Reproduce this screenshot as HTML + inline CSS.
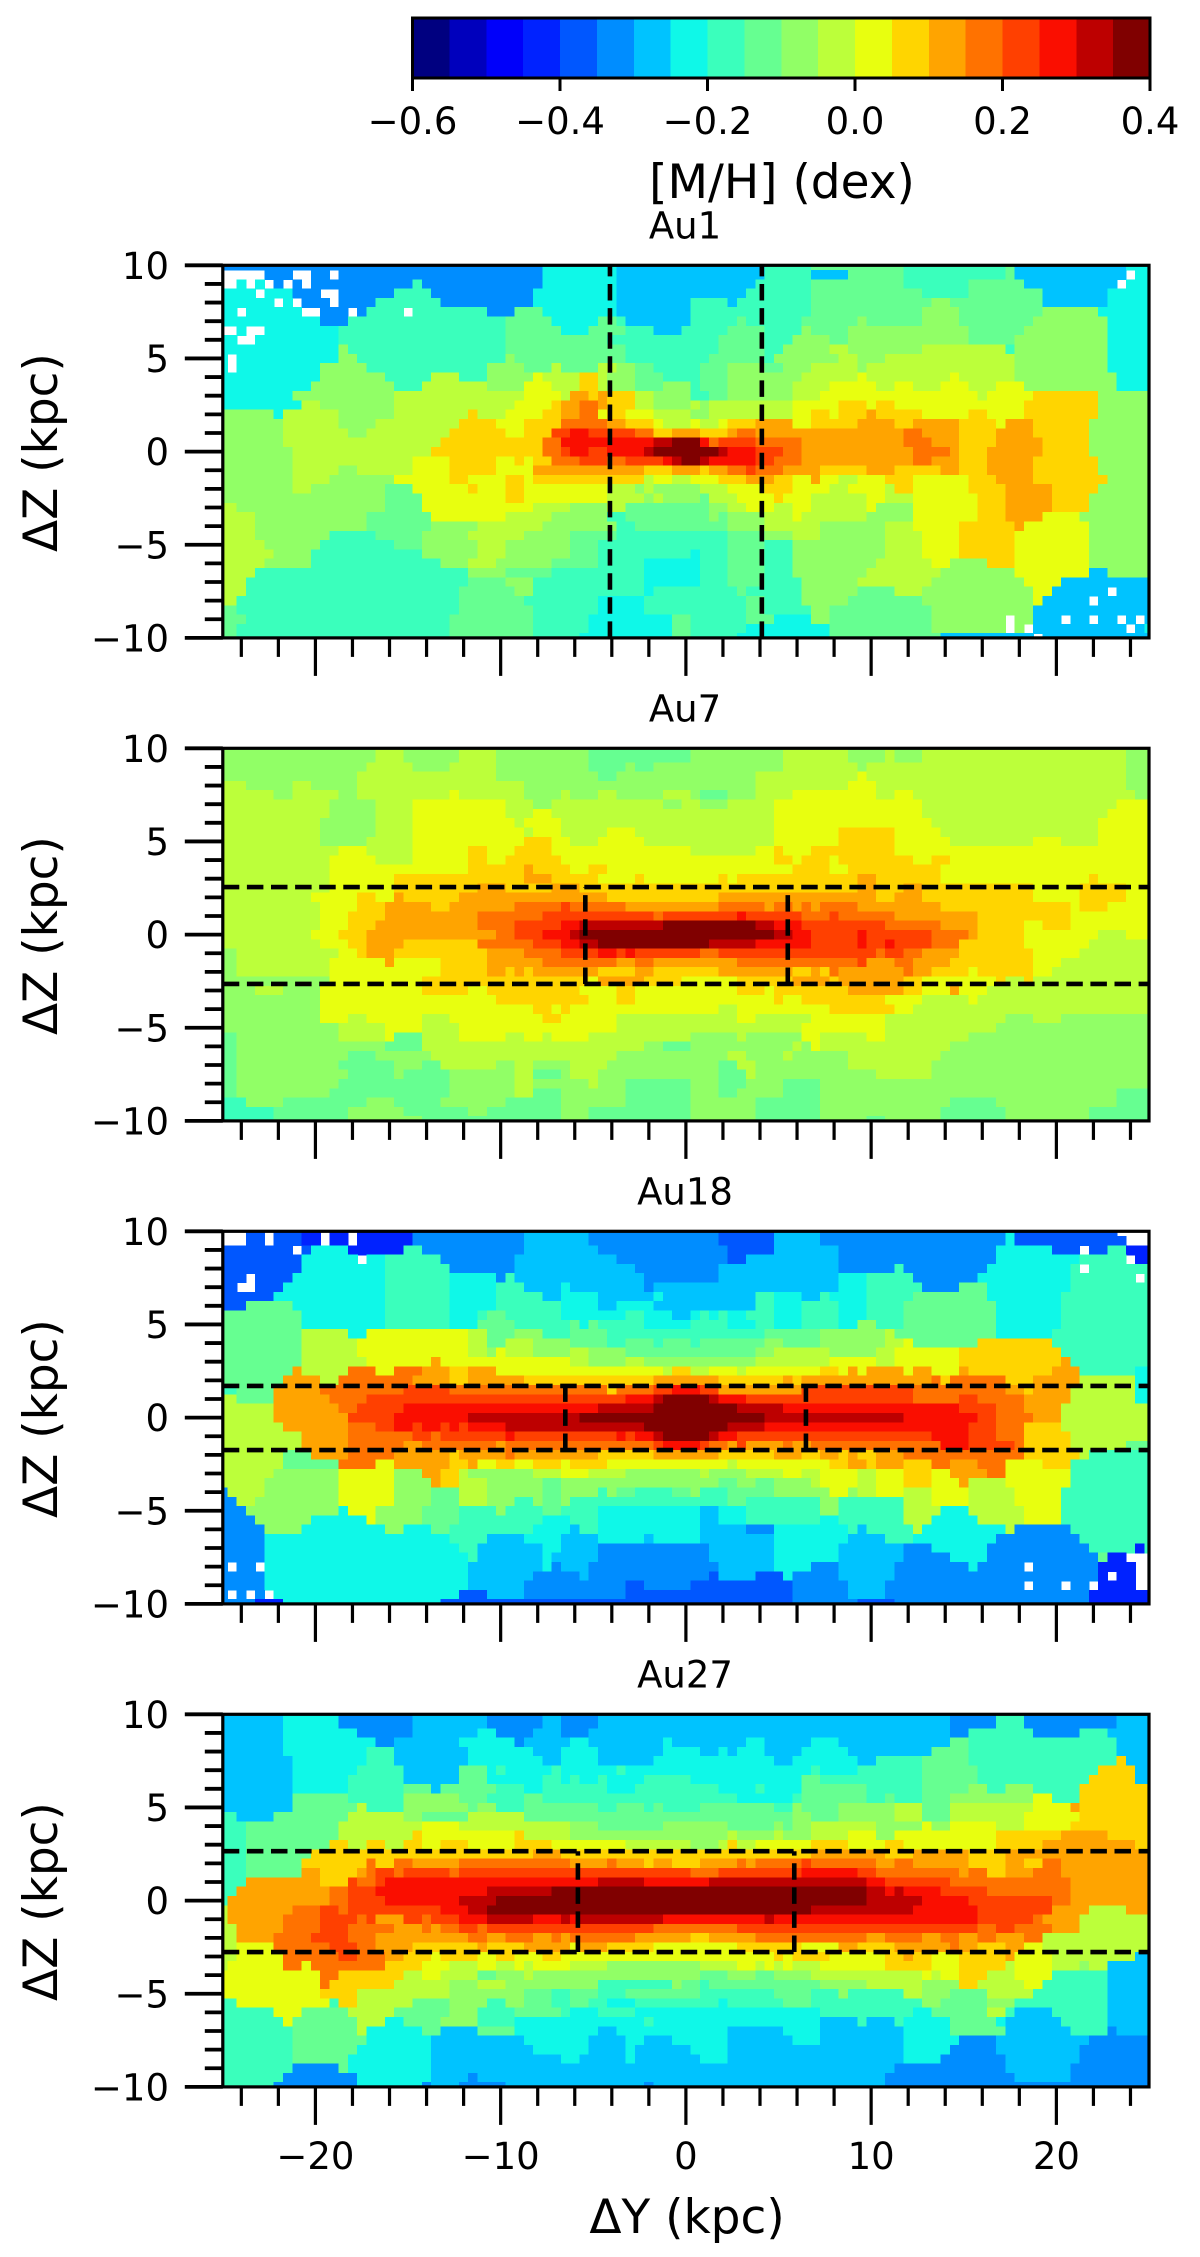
<!DOCTYPE html>
<html lang="en">
<head>
<meta charset="utf-8">
<title>[M/H] maps of Au1, Au7, Au18 and Au27</title>
<style>
html,body{margin:0;padding:0;background:#fff;width:1200px;height:2257px;overflow:hidden}
svg{display:block}
text{font-family:"DejaVu Sans","Liberation Sans",sans-serif;fill:#000}
</style>
</head>
<body>
<svg id="figure" xmlns="http://www.w3.org/2000/svg" width="1200" height="2257" viewBox="0 0 1200 2257"></svg>
<script>
/* Binned [M/H] maps. Each row (top = +10 kpc) is a list of tokens: colour level letter + last bin (exclusive).
   a..t = the 20 colour levels from -0.6 to 0.4 dex, _ = empty bin. */
const au1Rows = [
"f35 h43 g59 i64 j74 i85 j86 g98 h101",
"_5 f8 _10 f12 _13 f35 h43 g59 i64 g68 j74 i85 j86 g98 _99 h101",
"_2 h3 _4 h5 _6 f7 _8 f9 _10 f21 i22 f35 h43 g58 i64 j74 i81 j87 g97 _98 h101",
"h4 _5 h8 f11 _13 f19 i23 f34 h43 g57 i64 j76 i81 j89 g96 h101",
"h6 _7 h8 _9 f12 _13 f17 i24 f34 h43 g51 i55 g56 i64 j77 k79 j89 g96 h101",
"h2 _3 h9 _11 f14 _15 f16 i20 _21 i29 f32 j35 h43 g51 i64 j76 k80 j89 k95 h101",
"h11 f14 i31 j36 h41 j43 i44 g51 i56 j57 i63 j69 k70 j76 k80 j88 k96 h101",
"_2 h3 _5 h13 i31 j37 h40 j44 i47 g50 i55 j59 i63 k64 j68 k81 j87 k96 h101",
"h2 _4 h13 i31 j42 i54 j59 i62 k66 j68 k81 j86 k96 h101",
"h13 k14 i31 j44 i54 j59 i61 k66 l68 k76 l85 i86 k96 h101",
"h1 _2 h13 k15 i31 k32 j44 i53 j59 i60 k67 l69 k72 l86 k96 h101",
"h1 _2 h11 k16 i29 k33 j36 l37 j41 l43 k45 j47 i52 j55 k59 j61 k64 l69 k70 l86 k96 h101",
"h11 k18 i23 l26 i29 k34 m35 l39 n41 l42 k45 j48 i52 j55 k63 l69 m70 l79 m80 l86 k97 h101",
"h10 k19 i22 l29 k33 m36 l39 n41 l42 k45 j48 k51 i52 j55 k62 l66 m71 l73 m75 l78 m81 l84 m87 k97 h101",
"h8 k19 l33 m37 l38 o40 n41 o42 n45 l47 k51 i53 j55 k62 l65 m82 l83 m88 n95 k101",
"h9 l11 k19 l32 m36 n37 o39 p41 o42 n45 l47 k51 l52 k53 l62 m67 n70 m71 n73 m87 n95 k101",
"k6 h7 l13 k19 l27 n28 l31 m35 n37 o39 p41 m42 n44 m47 l51 k53 l62 m64 n66 m67 n70 o71 n76 m81 n83 m87 n95 k101",
"k7 l13 k17 l26 n30 m33 n37 p42 o44 n47 m48 l51 m52 l54 m55 n58 o62 m64 n69 o73 n75 o80 n84 m85 o88 n94 k101",
"k7 l14 k16 l25 n31 m33 n36 q38 r40 q45 p47 n49 o52 n55 o56 p58 o74 p76 o80 n84 o88 n94 k101",
"k7 l24 n35 p37 r47 s49 t52 r53 p54 q58 p63 o74 p77 o80 n84 o89 n94 k101",
"k8 l23 n35 p37 q38 r40 q42 r46 s47 t54 s55 r58 q61 p63 o75 p79 o80 n83 o89 n94 k101",
"k8 l21 m25 n30 m32 n33 m34 n36 p39 q42 p44 q48 r49 s50 t52 s53 r58 q60 p63 o75 p77 o80 n83 o88 n95 k101",
"k8 l13 k15 l21 m25 n30 m34 o46 n49 o52 n53 o55 p57 q58 p61 o65 n70 o73 n78 o80 n83 o88 n95 k101",
"k8 l12 k19 m25 n27 m31 n33 m34 n46 l47 m49 l51 m54 n57 o60 n62 m64 o65 m67 l69 m72 n75 m81 n84 o88 n96 k101",
"k8 l10 k18 j21 m27 n28 m31 n33 m42 l45 k46 l47 k52 l55 m59 n62 m66 l68 m72 l73 n75 m81 n85 o90 n95 k101",
"k18 j22 m31 n33 m42 l46 k47 l48 k52 j53 l56 m60 n61 m64 l70 m72 l75 m82 n85 o90 n94 k101",
"l2 k18 j22 m34 l38 k42 l44 j53 k55 l57 m60 l62 m64 l70 m71 k75 m82 n85 o90 n94 k101",
"l4 k16 j23 m31 l36 k42 i44 j53 k54 j55 k59 l62 m63 l70 k75 m82 n85 o89 m93 k101",
"l4 k16 j23 k28 l35 k43 i45 j55 k59 l65 k72 l75 m80 n86 o87 m94 k101",
"l4 k12 i17 j22 k27 l33 k38 j43 i55 j59 k62 l65 k72 l76 m80 n86 m94 k101",
"l5 k11 i19 j22 k28 l31 k38 j41 i55 j59 i62 k72 l76 m80 n86 m94 k101",
"l6 k10 i22 k28 l31 k38 j41 i51 h52 i55 j59 i62 k72 l76 m80 n86 m94 k101",
"l5 k10 i24 k27 l30 k36 j41 i46 h52 i55 j59 i62 k71 l77 m79 k83 n86 m94 k101",
"l4 i27 k31 j36 i46 h52 i55 j59 i62 k70 l78 k86 m94 g96 k101",
"l3 i27 j31 k34 i46 h52 i55 j59 i63 k69 l77 k87 m91 g101",
"l3 i26 j32 k34 i46 h47 i56 j57 i63 k69 j73 l76 k88 m90 g96 _97 g101",
"l2 i26 j33 i41 h46 i57 j59 i63 k68 j76 k88 m89 g94 _95 g101",
"j2 i26 j34 i41 h46 i57 j59 i64 k66 j77 k88 g101",
"j3 i25 j34 i40 h49 j51 i57 j60 h64 k66 j77 k85 _86 k88 g91 _92 g94 _95 g97 _98 g99 _100 g101",
"j2 i25 j34 i40 h49 j51 i57 h66 j77 k85 _86 k87 _88 g98 _99 g100 h101",
"j2 i25 j34 i39 h49 j51 i56 h66 j78 g88 _89 g101"
];
const au7Rows = [
"k17 l20 k26 l30 k40 j51 k61 l68 k72 l73 k76 l98 k101",
"k17 l20 k26 l30 k40 j51 k61 l68 k72 l73 k76 l98 k101",
"k16 l21 k25 l30 k40 j44 k45 j47 k61 l69 k70 l98 k101",
"k15 l30 k41 j43 k58 l69 m70 l98 k101",
"l3 k8 l10 k15 l33 k58 l68 m71 l98 k101",
"l6 k8 l13 k15 l25 m26 l33 k37 l38 k41 l43 k48 l51 k52 j55 k58 l62 m71 l73 m75 l99 k101",
"l12 k17 l21 m31 l34 k36 l48 k50 l52 k55 l60 m76 l97 m101",
"l12 k17 l21 m31 l34 m36 l60 m76 l96 m101",
"l11 k17 l21 m32 l33 m37 l60 m77 l95 m101",
"l11 k17 l21 m33 l34 m37 l42 m45 l60 m67 n73 m78 l95 m101",
"l11 k16 l21 m33 n36 m38 l41 m46 l60 m67 n73 m79 l88 m91 l95 m101",
"l13 m16 l21 m27 n29 m32 n36 m51 l58 m60 n61 m64 n73 m101",
"l12 m17 l21 m27 n29 m31 n37 m60 n62 m63 n66 m67 n75 m77 n79 m101",
"l12 m27 n33 o34 n38 m40 n42 m62 n66 m68 n78 m101",
"l12 m19 n33 o36 n41 m45 n46 m54 n55 m56 n69 o71 n78 m94 n95 m101",
"l12 m19 n28 o31 n36 o39 n69 o71 n74 o76 n88 m93 n98 m101",
"l10 m15 n17 m19 o20 n26 o42 n54 o71 n73 o76 n88 m93 n98 m101",
"l11 m15 n18 o23 n25 o32 p37 q38 p44 o54 p59 o60 p62 o63 p64 o65 p69 o78 n92 m93 n96 m101",
"l11 m14 n18 o28 p35 q47 p48 q56 r57 q63 p66 q67 p73 o82 n92 m101",
"l11 m14 n17 o28 p32 q37 r39 s48 t58 s60 r63 q72 p78 o82 n87 m89 n92 m101",
"l10 m13 n16 o30 p32 q35 r38 s39 t60 s62 r64 q69 r70 q77 p81 o82 n87 m95 l98 m101",
"l11 m14 n16 o20 n28 p34 q37 r39 s41 t53 s58 r64 q69 r70 q72 r73 q77 p80 n87 m94 l101",
"k2 l13 m15 n16 o19 n29 o33 p37 q41 r43 q44 r45 q52 p54 q71 p72 q74 p76 o80 n88 m93 l101",
"k2 l12 m18 o19 m24 n29 o35 p43 o45 p47 o56 p69 q70 o73 p75 o79 n88 m91 l101",
"k2 l12 m24 n29 o31 n32 o33 n34 o41 n45 o47 n54 o62 n64 o65 n66 p67 o74 p75 o77 n81 m82 n88 m90 l101",
"k12 m22 n40 m41 o46 n50 m56 n62 o66 n67 o74 n76 m84 n85 l87 n88 l101",
"k4 l7 k11 m22 n27 m29 n39 m43 n45 m56 n59 m60 n68 o74 n76 m79 o80 m83 l101",
"k11 m30 n40 m43 n45 m60 n61 m63 n72 m76 l81 m82 l101",
"k11 m34 n36 m37 n38 m54 l56 m66 n73 m75 l101",
"k11 m14 l16 m22 l25 m35 n37 m43 l56 m58 l64 m72 l85 k88 l91 k101",
"k13 l18 m22 l26 m43 l63 m72 l84 k101",
"j2 k13 l18 m19 j22 l26 m31 l33 m35 l36 m40 l51 k56 l57 k63 m65 l70 m72 l81 k101",
"j2 k18 j22 l46 k48 j51 k62 l63 k64 m65 l79 k101",
"j2 k14 j17 k23 l43 k55 l57 k61 l62 k68 l78 k101",
"j2 k13 j19 k22 j24 l30 k32 l34 k38 l42 k54 j56 l58 k68 l77 k101",
"j2 k14 j19 k20 j25 k32 l34 j37 k38 l41 k54 j57 l58 k71 l77 k101",
"j2 k13 j25 k32 l34 k40 l41 k44 j51 k54 j57 k61 j65 k101",
"j2 k12 j25 k32 l34 j37 k44 j51 k54 j56 k61 j65 k97 j101",
"i3 k7 j16 k19 j24 k31 j37 k44 j51 k58 j65 k79 j84 k97 j101",
"i6 j14 k20 j27 k29 j37 k40 j51 k58 j65 k78 j85 k94 j101",
"i6 j14 k22 j37 k40 j51 k58 j65 k70 j72 k78 j85 k94 j101"
];
const au18Rows = [
"_3 e5 _6 e9 d11 _12 d14 _15 d21 f33 g40 f54 e60 g65 f85 h86 e97 _101",
"_3 e5 _6 e9 d11 _12 d14 _15 d21 f33 g40 f54 e60 g65 f85 h86 e98 _101",
"e8 _9 e10 h14 d20 i22 f33 g41 f55 e60 g67 f84 h90 e93 _94 e96 i98 d101",
"e9 h15 _16 h18 i24 f32 g43 f55 e57 g67 f84 h93 i98 _99 d101",
"e9 h18 i25 f32 g45 f54 g67 f73 i74 f83 h92 i93 _94 i101",
"e3 _4 e8 h18 i25 h30 f31 i32 g46 f54 g67 h70 i75 f82 h92 i99 _100 i101",
"e2 _4 e7 h18 i25 h30 i33 g37 h38 g46 f47 g67 h70 i76 f80 j83 h92 i101",
"e6 h18 i25 h30 i35 g37 h41 g47 h48 g58 i60 h63 g65 i66 h70 i75 j83 h91 i101",
"e3 j8 h18 i25 h30 i37 h41 g43 h47 g58 i60 h63 i67 h70 i74 j84 h91 i101",
"j9 h18 i25 h28 i29 j31 i37 h44 i46 h49 g51 h52 i53 h54 i55 h57 i60 h63 i67 h70 i74 j84 h91 i101",
"j9 h18 i25 h28 j32 i38 j39 h40 j41 i46 h51 i55 h58 i60 h63 i67 h69 k71 i74 j84 h91 i101",
"j9 l14 h16 m27 l29 j32 k35 i38 j42 i59 j65 k72 l73 j84 h90 i101",
"j9 l15 m27 l29 j31 l34 k38 j42 i44 j47 i48 j51 i52 j59 k61 j65 k72 l74 m75 j82 n90 i101",
"j9 l15 m27 l29 k30 m31 l34 k38 l40 k44 j58 k60 l66 k71 l73 m80 n91 i101",
"j9 l16 m23 o24 m38 l40 k44 l46 k58 l66 m71 l73 m80 n91 o92 i101",
"j8 o9 l14 p17 m19 p22 o25 n27 o30 m48 l49 n51 l53 m56 l57 m65 n67 m68 o69 m70 o74 m75 o77 m80 o81 n90 o93 i99 h101",
"j7 o11 l13 p21 o25 n27 o33 n47 o54 n61 o62 n63 o77 p78 n79 p85 n88 o93 l99 h101",
"i2 j6 o11 p20 q25 p42 n43 p47 q49 r52 q54 o63 q75 p85 o87 n88 o92 l99 h101",
"l2 j6 o12 p16 q44 r47 s48 t53 s54 r57 q75 p80 q82 p87 o92 l99 h101",
"l6 o13 p15 q20 r41 s47 t56 s61 r80 q84 p87 o91 l101",
"l6 o14 q19 r27 s39 t59 s74 r82 q84 p88 o91 l101",
"l7 o14 p17 q19 r21 q22 r24 q25 r26 q27 r31 s46 t55 s59 r81 q84 p87 n91 l101",
"l9 o14 p21 q23 p24 q31 r32 q43 r44 q45 r47 s48 t53 s54 r56 q77 r81 q84 p87 n92 l101",
"l9 o14 p20 o22 p30 o31 p47 q48 r52 q53 p55 o56 q57 o61 p62 o64 p78 r81 q86 p87 n92 l98 j101",
"l7 j10 o14 p19 o25 n26 o31 p32 o41 n47 o54 n60 o63 n65 o67 n68 o69 n71 o74 p87 n93 l94 i101",
"l7 j13 p17 m19 o25 n27 o28 m30 n32 m34 n37 m38 n42 m55 l56 m66 n68 o70 n71 o74 n77 p79 o82 p85 m89 n92 i101",
"l6 k13 m19 k22 o24 n26 l27 k34 l37 m40 l44 k52 l53 k57 l61 m63 l65 m69 l71 m74 n77 m79 o83 p85 m92 i101",
"l5 k13 m19 k23 o24 n26 l29 k35 j37 k54 j56 k58 j60 k64 l65 m69 l71 m74 n77 m80 o81 l85 m92 i101",
"f1 l5 k13 m19 k23 j26 l29 k35 j37 k41 i42 k43 j45 i49 j51 k52 i55 j60 k66 m68 k69 l71 m74 l77 m81 l86 m91 i101",
"f2 l4 k13 m19 k23 j26 l29 k32 i34 k35 j37 k38 i55 j57 i65 k67 i74 l77 m81 l86 m91 i101",
"f3 k13 h14 m17 k22 j26 i30 k31 i35 j37 i41 h52 g54 h57 i65 k67 i74 l78 h81 l87 m91 i101",
"f4 k10 h16 m17 k22 j26 i35 h38 i41 h52 g54 h57 i65 h67 i74 l77 h82 l87 m91 i101",
"f5 k9 h18 k20 h23 j25 i34 h38 g39 i41 h52 g57 f60 h68 i69 g70 i75 l76 h85 l86 f92 i101",
"f5 h25 i29 g33 h37 g41 h46 g47 h52 g60 h68 g72 i75 h84 f93 i101",
"f5 h26 i28 g35 h37 g41 f53 g60 h67 g74 f77 h83 f94 i99 d100 i101",
"f5 h27 i28 g35 h36 g41 f53 g60 h67 g74 f79 h83 f95 j96 d98 _101",
"f1 _2 f4 _5 h27 g35 h36 f37 g40 f54 g60 h64 f67 g73 f81 h82 f87 _88 f95 d99 _101",
"f5 h27 g34 f39 g40 f53 e54 g58 e61 h62 f67 g73 f95 d96 _97 d99 _101",
"f5 h27 g33 f44 e46 f51 e62 f68 g72 f87 _88 f91 _92 f94 _95 d99 _101",
"f1 _2 f3 _4 f5 _6 h26 e29 g33 f44 e62 f68 g72 f94 d101",
"f4 d7 h24 e62 f69 e73 f94 d101"
];
const au27Rows = [
"g7 h13 f21 g29 f35 g37 f41 g79 f84 i87 f97 g101",
"g7 h13 f21 g29 f35 g37 f41 g79 f84 i87 f97 g101",
"g7 h15 f21 g28 h30 f34 g37 f40 g79 f81 i88 f93 i96 g101",
"g7 h17 f19 g26 h32 f33 g38 h40 g48 h49 g57 h59 g64 h67 g79 j81 i97 g101",
"g7 h16 i19 g27 h34 g37 h41 g48 h52 g54 h55 g56 h59 g63 h68 g77 j81 i97 g101",
"g8 h16 i19 g27 h35 g37 h41 g47 h60 g62 h69 g71 i76 j81 i97 n98 g101",
"g8 h15 i20 g26 j29 h30 i31 h36 i37 h43 i44 h64 i65 h69 i76 j82 i95 n99 g101",
"g8 h14 i20 g26 j29 h35 i37 h38 i39 h41 i42 h46 i51 h63 j65 i76 j82 i94 n99 g101",
"g8 h14 i20 j23 g24 j30 i33 h35 i42 h45 i54 h58 i59 h63 j70 i76 j81 k83 i85 k88 i93 n101",
"g8 j14 i20 k26 j29 i33 j35 i56 h62 i63 j70 i72 j73 i76 j79 k88 m90 i93 n101",
"g8 j15 l16 i20 k27 j28 k30 i33 j41 i43 j46 i47 j48 i52 j60 i62 k63 j67 k73 l76 j79 l88 m92 o93 n101",
"i2 g6 j14 l20 k22 j27 l33 j62 k64 j67 k73 l76 j79 l87 m93 n101",
"i3 j13 l22 m26 l38 k41 j48 k55 j60 k61 j62 k64 l71 k76 m77 k79 m84 l87 m92 n101",
"i3 j13 l21 n22 m32 n33 l38 k55 l56 k60 l61 k64 l68 m71 k73 m84 n91 o96 n101",
"i3 j12 n14 l16 n18 l20 n22 m24 n27 m32 n36 m44 l51 k54 l55 n56 l58 m64 n68 m72 n74 m84 n89 o99 n101",
"i3 j10 n34 o37 n64 o72 n75 o81 n85 o101",
"i3 j9 n16 p17 n19 p21 o26 p38 o42 p43 o46 n47 o49 n52 o56 p57 o58 p63 q64 p71 o73 p75 o81 n85 o87 n89 p91 o101",
"i3 j9 o11 n15 o16 p17 q19 p20 q25 p26 q51 p54 q63 r69 q71 p80 o81 p83 n85 o88 p91 o101",
"i3 o11 n14 q15 p17 q18 r41 s46 r53 s70 r72 q79 p92 o101",
"i2 o12 p14 q17 r29 s36 t70 s72 r73 s74 r78 q83 p92 o101",
"i1 o12 p14 q18 r26 s30 t70 s76 r81 q90 p92 o101",
"l1 o8 p11 q13 p14 q24 r27 s29 t64 s75 r82 q90 o94 l98 o101",
"l1 o7 p11 q15 p16 q17 o20 q22 p23 q26 r29 s34 r37 s38 r39 s48 r59 s60 r82 q88 p89 o93 l101",
"l2 o7 p11 q14 p19 o22 p23 o24 p26 q28 p29 q47 p56 q82 p84 q86 p90 o93 l101",
"l2 o6 p10 q14 p17 o27 p29 o31 p34 o36 p37 o38 p45 o51 n53 o58 p70 o72 p76 o78 p80 o82 p84 o87 p89 l101",
"l2 m6 p12 q15 p17 o21 n28 o29 n33 o38 m39 o42 n47 m56 n63 m67 o69 n73 o79 p80 o82 n85 o87 m89 l101",
"l2 m7 p13 q15 p18 o20 n23 m24 n28 m30 n32 m35 n37 m60 n61 m62 n66 m72 n74 o75 n77 m80 n85 o86 m90 l99 g101",
"l1 m7 p9 m10 p18 n22 m25 l28 m30 l32 m33 l34 m38 l42 k52 l56 m58 l59 m60 l61 m62 l65 m72 n77 m80 n85 l86 m90 l93 k94 l96 g101",
"m11 p13 n20 l22 m24 l28 j30 k33 l34 k52 j55 k58 j60 k64 l76 m77 l78 m80 n83 l86 m90 i96 g101",
"m11 p12 n19 l25 k28 l31 k41 i49 k50 j52 i53 j65 k70 l76 k80 n82 l87 m89 i96 g101",
"m11 n15 l25 k33 j36 i38 j41 i44 j52 i60 j64 i67 k68 i74 l76 k79 j83 l88 i96 g101",
"i2 m12 i13 n15 l21 j25 k29 i31 k33 j36 i38 j40 i42 h45 i54 h55 i61 j64 i76 k78 j83 k86 i96 g101",
"i6 m9 j14 l19 j25 k28 i32 j37 i38 h41 i45 h65 i75 h77 j83 l85 i86 g90 i96 g101",
"i7 m8 j15 l18 h20 j24 k28 i32 h46 i47 h65 g69 i70 g73 i74 h79 j84 h85 g91 i96 g101",
"i8 j15 l16 h22 j24 g28 j32 h41 g43 h55 g61 h65 g74 h79 j85 g92 i96 f97 g101",
"i8 j16 h23 g33 h40 g44 h46 g49 h55 g62 h65 g74 h80 f84 g94 f101",
"i8 j15 h23 g34 h40 g44 h45 g51 h55 g74 h79 f84 g93 f101",
"i8 j14 h23 g37 h39 g44 h45 g52 h55 g74 h78 f85 g93 f101",
"i8 f13 j14 h23 g73 f85 g92 f101",
"i7 f15 h23 g27 f28 g72 f86 g92 f101",
"i6 f15 h22 f23 g26 f31 g46 f47 g72 f101"
];
/* Selection boundaries in kpc */
const au1BoxY = [-4.1, 4.1];
const au1BoxZ = [];
const au7BoxY = [-5.43, 5.5];
const au7BoxZ = [-2.65, 2.55];
const au18BoxY = [-6.51, 6.48];
const au18BoxZ = [-1.74, 1.7];
const au27BoxY = [-5.83, 5.85];
const au27BoxZ = [-2.76, 2.65];
const panelNames = ["Au1", "Au7", "Au18", "Au27"];
/* Axis ticks */
const xMajorTicks = [-20, -10, 0, 10, 20];
const xMinorTicks = [-24, -22, -18, -16, -14, -12, -8, -6, -4, -2, 2, 4, 6, 8, 12, 14, 16, 18, 22, 24];
const yMajorTicks = [-10, -5, 0, 5, 10];
const yMinorTicks = [-9, -8, -7, -6, -4, -3, -2, -1, 1, 2, 3, 4, 6, 7, 8, 9];
const colorbarTicks = [-0.6, -0.4, -0.2, 0.0, 0.2, 0.4];
const colorLevels = 20;

const SVG_NS = "http://www.w3.org/2000/svg";
const fig = document.getElementById("figure");
const X0 = 222.8, X1 = 1149, TOP0 = 265.3, PITCH = 483, H = 372.6;
const CB = {x0: 412.5, x1: 1150, y0: 18, y1: 78};
const FONT = 37;

function make(tag, attrs, parent) {
  const el = document.createElementNS(SVG_NS, tag);
  for (const k in attrs) el.setAttribute(k, attrs[k]);
  (parent || fig).appendChild(el);
  return el;
}
function piece(x, pts) {
  for (let i = 1; i < pts.length; i++) {
    if (x <= pts[i][0]) {
      const a = pts[i - 1], b = pts[i];
      return a[1] + (b[1] - a[1]) * (x - a[0]) / (b[0] - a[0]);
    }
  }
  return pts[pts.length - 1][1];
}
function jet(t) {
  const r = piece(t, [[0,0],[0.35,0],[0.66,1],[0.89,1],[1,0.5]]);
  const g = piece(t, [[0,0],[0.125,0],[0.375,1],[0.64,1],[0.91,0],[1,0]]);
  const b = piece(t, [[0,0.5],[0.11,1],[0.34,1],[0.65,0],[1,0]]);
  return "rgb(" + Math.round(r * 255) + "," + Math.round(g * 255) + "," + Math.round(b * 255) + ")";
}
function colorFor(dex) {
  const idx = Math.max(0, Math.min(colorLevels - 1, Math.floor((dex + 0.6) / 0.05)));
  return jet(idx / (colorLevels - 1));
}
function decodeRow(row) {
  const cells = [];
  row.trim().split(/\s+/).forEach(function (tok) {
    const code = tok[0], end = parseInt(tok.slice(1), 10);
    const dex = code === "_" ? NaN : -0.6 + 0.05 * (code.charCodeAt(0) - 97 + 0.5);
    while (cells.length < end) cells.push(dex);
  });
  return cells;
}
function fmt(v, digits) {
  const s = Math.abs(v).toFixed(digits);
  return (v < 0 ? "\u2212" : "") + s;
}

function drawColorbar() {
  const g = make("g", {});
  
  
  const sx = function (v) { return CB.x0 + (v + 0.6) / 1.0 * (CB.x1 - CB.x0); };
  for (let i = 0; i < colorLevels; i++) {
    const lo = -0.6 + i * 0.05, hi = lo + 0.05;
    const r = make("rect", {x: sx(lo), y: CB.y0, width: sx(hi) - sx(lo) + 0.5, height: CB.y1 - CB.y0, fill: colorFor((lo + hi) / 2), "shape-rendering": "crispEdges"}, g);
    
    
  }
  const box = make("rect", {x: CB.x0, y: CB.y0, width: CB.x1 - CB.x0, height: CB.y1 - CB.y0, fill: "none", stroke: "#000", "stroke-width": 3}, g);
  
  
  colorbarTicks.forEach(function (v) {
    const t = make("line", {x1: sx(v), x2: sx(v), y1: CB.y1, y2: CB.y1 + 13, stroke: "#000", "stroke-width": 3}, g);
    
    
    const l = make("text", {x: sx(v), y: 134, "font-size": FONT, "text-anchor": "middle"}, g);
    l.textContent = fmt(v, 1);
    
    
  });
  const lab = make("text", {x: 782, y: 198, "font-size": 47, "text-anchor": "middle"}, g);
  lab.textContent = "[M/H] (dex)";
  
  
}

function drawPanel(name, rows, boxY, boxZ, index, isLast) {
  const top = TOP0 + PITCH * index, bottom = top + H;
  const sx = function (v) { return X0 + (v + 25) / 50 * (X1 - X0); };
  const sy = function (v) { return top + (10 - v) / 20 * H; };
  const g = make("g", {});
  
  
  const title = make("text", {x: 685, y: top - 27, "font-size": FONT, "text-anchor": "middle"}, g);
  title.textContent = name;
  
  

  const heat = make("g", {"shape-rendering": "crispEdges"}, g);
  
  
  rows.forEach(function (row, i) {
    const zc = 10 - 0.5 * i;
    const yTop = sy(Math.min(10, zc + 0.25)), yBot = sy(Math.max(-10, zc - 0.25));
    decodeRow(row).forEach(function (dex, j) {
      if (isNaN(dex)) return;
      const yc = -25 + 0.5 * j;
      const xL = sx(Math.max(-25, yc - 0.25)), xR = sx(Math.min(25, yc + 0.25));
      const c = make("rect", {x: xL.toFixed(2), y: yTop.toFixed(2), width: (xR - xL + 0.7).toFixed(2), height: (yBot - yTop + 0.7).toFixed(2), fill: colorFor(dex)}, heat);
      
      
    });
  });

  const dash = {stroke: "#000", "stroke-width": 4.6, "stroke-dasharray": "16.5 7.6", fill: "none"};
  boxZ.forEach(function (z) {
    const l = make("line", Object.assign({x1: sx(-25), x2: sx(25), y1: sy(z), y2: sy(z)}, dash), g);
    
    
  });
  const zLo = boxZ.length ? boxZ[0] : -10, zHi = boxZ.length ? boxZ[1] : 10;
  boxY.forEach(function (y) {
    const l = make("line", Object.assign({x1: sx(y), x2: sx(y), y1: sy(zLo), y2: sy(zHi)}, dash), g);
    
    
  });

  const spine = make("rect", {x: X0, y: top, width: X1 - X0, height: H, fill: "none", stroke: "#000", "stroke-width": 3.2}, g);
  
  

  xMajorTicks.forEach(function (v) {
    const t = make("line", {x1: sx(v), x2: sx(v), y1: bottom, y2: bottom + 38, stroke: "#000", "stroke-width": 3.2}, g);
    
    
    if (isLast) {
      const l = make("text", {x: sx(v), y: bottom + 82, "font-size": FONT, "text-anchor": "middle"}, g);
      l.textContent = fmt(v, 0);
      
      
    }
  });
  xMinorTicks.forEach(function (v) {
    const t = make("line", {x1: sx(v), x2: sx(v), y1: bottom, y2: bottom + 19, stroke: "#000", "stroke-width": 3.2}, g);
    
    
  });
  yMajorTicks.forEach(function (v) {
    const t = make("line", {x1: X0, x2: X0 - 38, y1: sy(v), y2: sy(v), stroke: "#000", "stroke-width": 3.8}, g);
    
    
    const l = make("text", {x: 169, y: sy(v) + 13.5, "font-size": FONT, "text-anchor": "end"}, g);
    l.textContent = fmt(v, 0);
    
    
  });
  yMinorTicks.forEach(function (v) {
    const t = make("line", {x1: X0, x2: X0 - 18, y1: sy(v), y2: sy(v), stroke: "#000", "stroke-width": 3.8}, g);
    
    
  });
  const cy = (top + bottom) / 2;
  const yl = make("text", {x: 0, y: 0, "font-size": 47, "text-anchor": "middle", transform: "translate(57," + (cy + 1) + ") rotate(-90)"}, g);
  yl.textContent = "\u0394Z (kpc)";
  
  
}

drawColorbar();
[au1Rows, au7Rows, au18Rows, au27Rows].forEach(function (rows, k) {
  const boxes = [[au1BoxY, au1BoxZ], [au7BoxY, au7BoxZ], [au18BoxY, au18BoxZ], [au27BoxY, au27BoxZ]][k];
  drawPanel(panelNames[k], rows, boxes[0], boxes[1], k, k === 3);
});
const xTitle = make("text", {x: 687, y: 2233, "font-size": 47, "text-anchor": "middle"});
xTitle.textContent = "\u0394Y (kpc)";


</script>
</body>
</html>
